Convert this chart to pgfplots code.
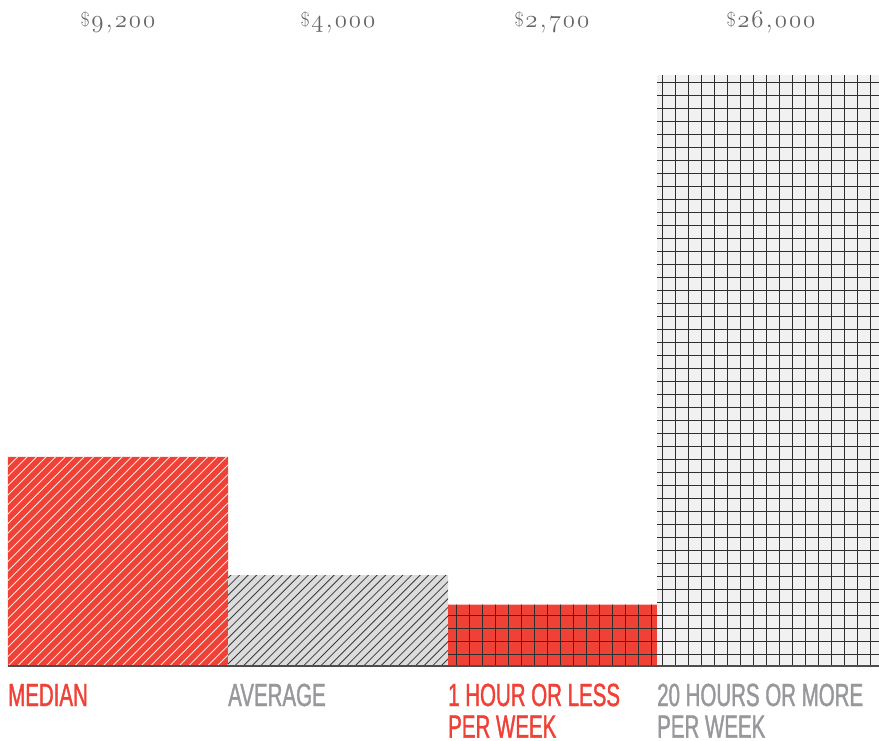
\documentclass[border=0pt]{standalone}
\usepackage{fontspec}
\usepackage{pgfplots}
\pgfplotsset{compat=1.18}
\newfontfamily\condfont[FakeStretch=0.64, FakeBold=1.2]{Liberation Sans}
\definecolor{cred}{HTML}{EF4136}
\definecolor{cgrayfill}{HTML}{DCDCDC}
\definecolor{cgridfill}{HTML}{F1F1F1}
\definecolor{cline}{HTML}{2E2E2E}
\definecolor{cline2}{HTML}{3A3A3A}
\definecolor{cwhite}{HTML}{FFE4E0}
\definecolor{cbase}{HTML}{4D4D4F}
\definecolor{ctop}{HTML}{646567}
\definecolor{cbot}{HTML}{97989B}
\newcommand\osn[1]{{\fontencoding{OML}\fontfamily{cmm}\fontseries{m}\fontshape{it}\selectfont #1}}
\newcommand\dol{\raisebox{1.5pt}{\fontsize{20}{20}\selectfont\$}\kern1.5pt}
\newcommand\toplab{\fontsize{29}{29}\selectfont}
\newcommand\botlab{\condfont\fontsize{32}{32}\selectfont}
\newcommand\kk{\kern2pt}
\tikzset{
  hl/.style={path picture={}, fill=none, draw=#1},
  diagw/.style={path picture={
    \foreach \k in {-30,...,26}
      \draw[hl=cwhite, line width=0.8pt]
        ([xshift={\k*9.5pt}]rel axis cs:0,0) -- ++(300pt,300pt);
  }},
  diagd/.style={path picture={
    \foreach \k in {-10,...,55}
      \draw[hl=cline2, line width=0.8pt]
        ([xshift={\k*8.6pt+3pt}]rel axis cs:0,0) -- ++(300pt,300pt);
  }},
  gridp/.style args={#1/#2/#3}{path picture={
    \foreach \k in {#1,...,#2}
      \draw[hl=cline, line width=0.9pt]
        ([xshift={\k*13pt+#3}]rel axis cs:0,0) -- ++(0pt,700pt);
    \foreach \k in {1,...,46}
      \draw[hl=cline, line width=0.9pt]
        ([yshift={\k*13pt-1.2pt}]rel axis cs:0,0) -- ++(900pt,0pt);
  }},
}
\begin{document}
\begin{tikzpicture}
\begin{axis}[scale only axis, width=871pt, height=666pt,
  xmin=8, xmax=879, ymin=0, ymax=29300, hide axis, clip=false]
% MEDIAN
\addplot[draw=none, fill=cred, diagw]
  coordinates {(8,0) (8,9200) (228,9200) (228,0)} \closedcycle;
% AVERAGE
\addplot[draw=none, fill=cgrayfill, diagd]
  coordinates {(228,0) (228,4000) (448,4000) (448,0)} \closedcycle;
% 1 HOUR OR LESS
\addplot[draw=none, fill=cred, gridp={33/51/6.7pt}]
  coordinates {(448,0) (448,2700) (657,2700) (657,0)} \closedcycle;
% 20 HOURS OR MORE
\addplot[draw=none, fill=cgridfill, gridp={49/68/4.7pt}]
  coordinates {(657,0) (657,26000) (879,26000) (879,0)} \closedcycle;
% baseline
\addplot[draw=cbase, line width=2pt] coordinates {(8,0) (879,0)};
% top labels
\node[anchor=base, text=ctop, font=\toplab, inner sep=0] at (axis cs:118,28070)
  {\dol\osn{9}\kk,\kk\osn{2}\kk\osn{0}\kk\osn{0}};
\node[anchor=base, text=ctop, font=\toplab, inner sep=0] at (axis cs:338,28070)
  {\dol\osn{4}\kk,\kk\osn{0}\kk\osn{0}\kk\osn{0}};
\node[anchor=base, text=ctop, font=\toplab, inner sep=0] at (axis cs:552,28070)
  {\dol\osn{2}\kk,\kk\osn{7}\kk\osn{0}\kk\osn{0}};
\node[anchor=base, text=ctop, font=\toplab, inner sep=0] at (axis cs:771,28070)
  {\dol\osn{2}\kk\osn{6}\kk,\kk\osn{0}\kk\osn{0}\kk\osn{0}};
% bottom labels
\node[anchor=base west, text=cred, font=\botlab, inner sep=0] at (axis cs:8,-1760) {MEDIAN};
\node[anchor=base west, text=cbot, font=\botlab, inner sep=0] at (axis cs:228,-1760) {AVERAGE};
\node[anchor=base west, text=cred, font=\botlab, inner sep=0] at (axis cs:448,-1760) {1 HOUR OR LESS};
\node[anchor=base west, text=cred, font=\botlab, inner sep=0] at (axis cs:448,-3150) {PER WEEK};
\node[anchor=base west, text=cbot, font=\botlab, inner sep=0] at (axis cs:657,-1760) {20 HOURS OR MORE};
\node[anchor=base west, text=cbot, font=\botlab, inner sep=0] at (axis cs:657,-3150) {PER WEEK};
\end{axis}
\pgfresetboundingbox
\path[use as bounding box] (-8pt,-74pt) rectangle (871pt,666pt);
\end{tikzpicture}
\end{document}
